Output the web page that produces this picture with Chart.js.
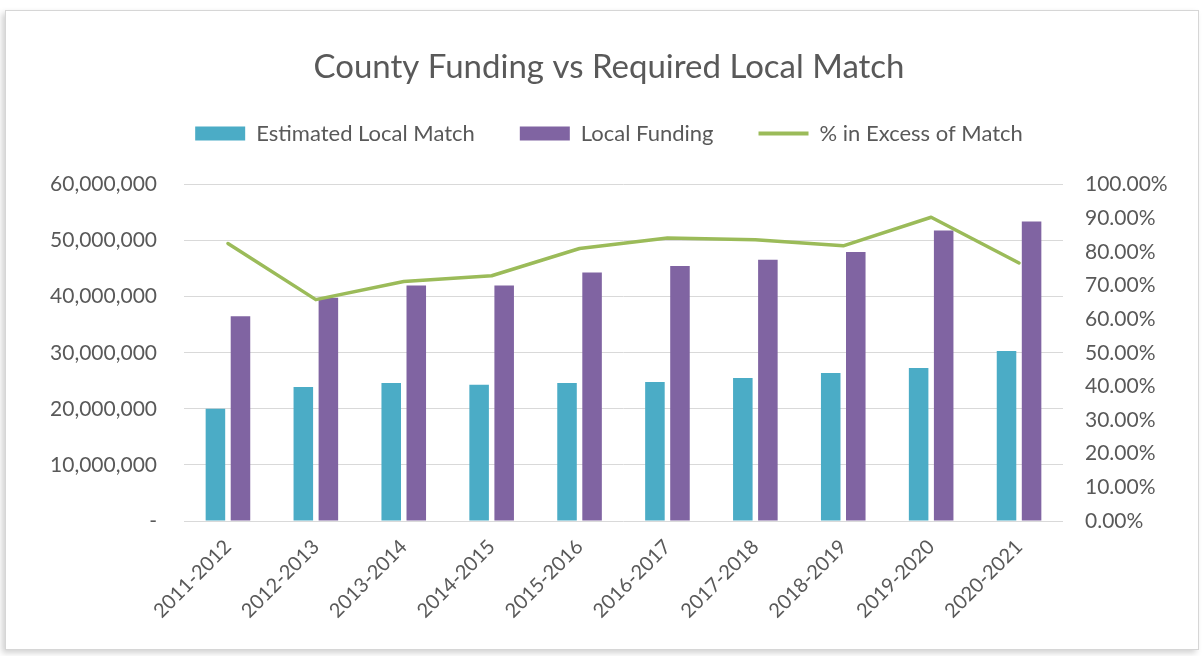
<!DOCTYPE html>
<html>
<head>
<meta charset="utf-8">
<title>County Funding vs Required Local Match</title>
<script src="https://cdn.jsdelivr.net/npm/chart.js@4.4.1/dist/chart.umd.min.js"></script>
<style>
  html, body { margin: 0; padding: 0; background: #fff; }
  #frame { position: absolute; left: 5px; top: 10px; width: 1192px; height: 638px;
    border: 1px solid #d6d6d6; box-shadow: -3px 3px 6px rgba(0,0,0,0.18); background: #fff; }
  #wrap { position: absolute; left: 0; top: 0; width: 1202px; height: 656px; }
</style>
</head>
<body>
<div id="frame"></div>
<div id="wrap"><canvas id="chart" width="1202" height="656"></canvas></div>
<script>
/* County Funding vs Required Local Match */
const years = ['2011-2012', '2012-2013', '2013-2014', '2014-2015', '2015-2016',
  '2016-2017', '2017-2018', '2018-2019', '2019-2020', '2020-2021'];
const estimatedMatch = [20000000, 23900000, 24600000, 24300000, 24600000,
  24800000, 25500000, 26400000, 27300000, 30300000];
const localFunding = [36500000, 39800000, 42000000, 42000000, 44300000,
  45500000, 46600000, 48000000, 51800000, 53400000];
const pctExcess = [82.5, 65.8, 71.2, 72.9, 81.0, 84.1, 83.6, 81.8, 90.3, 76.7];

const COLORS = { teal: '#4BACC6', purple: '#8064A2', green: '#9BBB59', text: '#595959', grid: '#d9d9d9' };
const FONT = 'Lato, "Open Sans", sans-serif';

const fmtMoney = (v) => v === 0 ? '-' : v.toLocaleString('en-US');
const fmtPct = (v) => v.toFixed(2) + '%';

// extra room under the legend row, like the Excel layout
const legendGap = {
  id: 'legendGap',
  afterInit(chart) {
    const lg = chart.legend;
    if (!lg) return;
    const fit = lg.fit.bind(lg);
    lg.fit = () => { fit(); lg.height += 30; };
  },
};

new Chart(document.getElementById('chart'), {
  data: {
    labels: years,
    datasets: [
      { type: 'bar', label: 'Estimated Local Match', data: estimatedMatch, yAxisID: 'y',
        backgroundColor: COLORS.teal, order: 1, categoryPercentage: 0.57, barPercentage: 0.78 },
      { type: 'bar', label: 'Local Funding', data: localFunding, yAxisID: 'y',
        backgroundColor: COLORS.purple, order: 1, categoryPercentage: 0.57, barPercentage: 0.78 },
      { type: 'line', label: '% in Excess of Match', data: pctExcess, yAxisID: 'y1',
        borderColor: COLORS.green, backgroundColor: COLORS.green, borderWidth: 3.5,
        pointRadius: 0, tension: 0, borderJoinStyle: 'round', borderCapStyle: 'round', order: 0 },
    ],
  },
  plugins: [legendGap],
  options: {
    responsive: false,
    animation: false,
    layout: { padding: { left: 28, right: 12, top: 0, bottom: 25 } },
    plugins: {
      title: {
        display: true, text: 'County Funding vs Required Local Match', color: COLORS.text,
        font: { family: FONT, size: 33, weight: 'normal' }, padding: { top: 48, bottom: -10 },
      },
      legend: {
        position: 'top',
        labels: {
          color: COLORS.text, font: { family: FONT, size: 22 }, padding: 45,
          usePointStyle: true, pointStyleWidth: 50, boxHeight: 14,
          sort: (a, b) => a.datasetIndex - b.datasetIndex,
          generateLabels(chart) {
            const items = Chart.defaults.plugins.legend.labels.generateLabels(chart);
            return items.map((it) => {
              const ds = chart.data.datasets[it.datasetIndex];
              if (ds.type === 'line') {
                return { ...it, pointStyle: 'line', strokeStyle: COLORS.green, lineWidth: 4 };
              }
              return { ...it, pointStyle: 'rect', lineWidth: 0 };
            });
          },
        },
      },
      tooltip: { enabled: false },
    },
    scales: {
      x: {
        grid: { display: false },
        border: { display: false },
        ticks: { color: COLORS.text, font: { family: FONT, size: 20 }, minRotation: 45, maxRotation: 45, padding: 6 },
        afterFit: (s) => { s.height = 110; },
      },
      y: {
        position: 'left', min: 0, max: 60000000,
        grid: { color: COLORS.grid, drawTicks: false },
        border: { display: false },
        ticks: { stepSize: 10000000, color: COLORS.text, font: { family: FONT, size: 21 }, padding: 27, callback: fmtMoney },
        afterFit: (s) => { s.width = 156; },
      },
      y1: {
        position: 'right', min: 0, max: 100,
        grid: { display: false, drawTicks: false },
        border: { display: false },
        ticks: { stepSize: 10, color: COLORS.text, font: { family: FONT, size: 21 }, padding: 22, callback: fmtPct },
        afterFit: (s) => { s.width = 127; },
      },
    },
  },
});
</script>
</body>
</html>
